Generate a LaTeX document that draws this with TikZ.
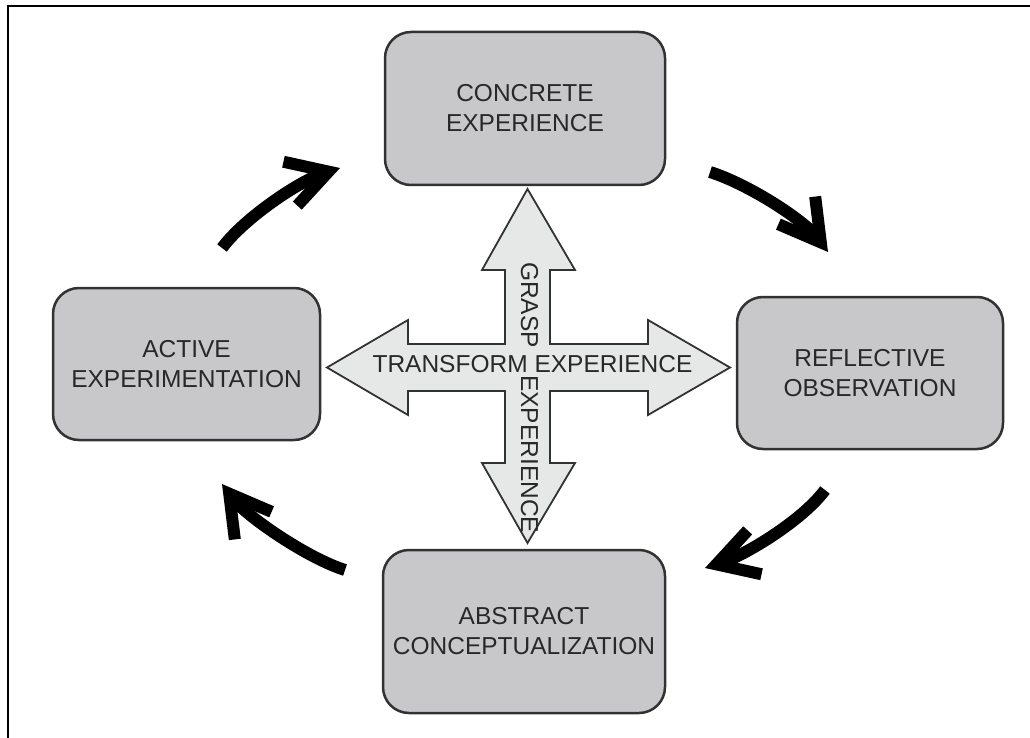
\documentclass[tikz,border=0pt]{standalone}
\usepackage{fontspec}
\setmainfont{Liberation Sans}
\usetikzlibrary{arrows.meta}
\definecolor{boxfill}{RGB}{200,200,202}
\definecolor{boxline}{RGB}{50,50,50}
\definecolor{crossfill}{RGB}{230,231,231}
\definecolor{inktext}{RGB}{40,40,40}
\begin{document}
\begin{tikzpicture}[x=1pt,y=-1pt,
  stage/.style={draw=boxline, line width=2.5pt, fill=boxfill, rounded corners=26pt,
    align=center, text=inktext, font=\fontsize{24.5}{30}\selectfont, inner sep=0pt},
  crosslbl/.style={text=inktext, font=\fontsize{24.5}{30}\selectfont, inner sep=0pt},
  cycle arrow/.style={line width=12pt, black,
    -{Straight Barb[length=40pt, width=46pt]}}]
\useasboundingbox (0,0) rectangle (1030,738);
% frame (left and top edges)
\draw[line width=2pt] (8.3,738) -- (8.3,6.5) -- (1030,6.5);

% the four stages
\node[stage, minimum width=280pt, minimum height=153pt] (ce) at (525,108.5) {CONCRETE\\EXPERIENCE};
\node[stage, minimum width=266pt, minimum height=152pt] (ro) at (870,373) {REFLECTIVE\\OBSERVATION};
\node[stage, minimum width=282pt, minimum height=163pt] (ac) at (524,631.5) {ABSTRACT\\CONCEPTUALIZATION};
\node[stage, minimum width=267pt, minimum height=152pt] (ae) at (186.5,364) {ACTIVE\\EXPERIMENTATION};

% central double cross of arrows
\draw[boxline, line width=1.8pt, fill=crossfill, line join=miter]
  (527.5,189) -- (575,270) -- (550,270) -- (550,344) -- (648,344) -- (648,320)
  -- (730,367.5) -- (648,415) -- (648,391) -- (550,391) -- (550,463) -- (575,463)
  -- (527.5,543) -- (482,463) -- (505,463) -- (505,391) -- (408,391) -- (408,415)
  -- (327,367.5) -- (408,320) -- (408,344) -- (505,344) -- (505,270) -- (482,270) -- cycle;
\node[crosslbl] (transform) at (532.5,364) {TRANSFORM EXPERIENCE};
\node[crosslbl, rotate=-90, anchor=base west] (grasp) at (521,262) {GRASP};
\node[crosslbl, rotate=-90, anchor=base west] (graspexp) at (521,375) {EXPERIENCE};

% cycle arrows between the stages
\coordinate (a1s) at (222,248); \coordinate (a1e) at (340,168);
\coordinate (a2s) at (710,172); \coordinate (a2e) at (828,252);
\coordinate (a3s) at (825,490); \coordinate (a3e) at (705,568);
\coordinate (a4s) at (345,570); \coordinate (a4e) at (222,484);
\draw[cycle arrow] (a1s) .. controls (246,216) and (302,180) .. (a1e);
\draw[cycle arrow] (a2s) .. controls (748,184) and (804,220) .. (a2e);
\draw[cycle arrow] (a3s) .. controls (801,522) and (743,556) .. (a3e);
\draw[cycle arrow] (a4s) .. controls (307,558) and (246,516) .. (a4e);
\end{tikzpicture}
\end{document}
